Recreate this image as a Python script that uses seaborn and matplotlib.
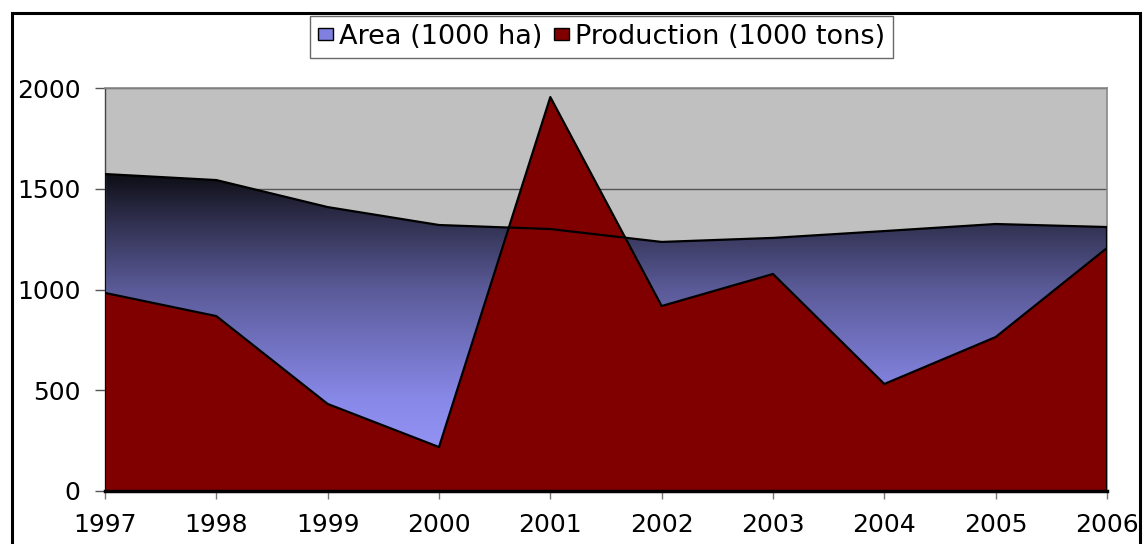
import numpy as np
import matplotlib
matplotlib.use("Agg")
import matplotlib.pyplot as plt
import seaborn as sns
import pandas as pd
from matplotlib.colors import LinearSegmentedColormap
from matplotlib.patches import Rectangle, Patch

years = [1997, 1998, 1999, 2000, 2001, 2002, 2003, 2004, 2005, 2006]
area = [1573, 1543, 1409, 1320, 1300, 1236, 1256, 1290, 1325, 1310]
production = [983, 868, 432, 218, 1955, 918, 1077, 531, 764, 1206]
series_labels = ["Area (1000 ha)", "Production (1000 tons)"]
y_ticks = [0, 500, 1000, 1500, 2000]

df = pd.DataFrame({"year": years, "area": area, "production": production})

sns.set_theme(style="white")
plt.rcParams["font.family"] = ["DejaVu Sans"]
plt.rcParams["text.color"] = "black"
plt.rcParams["xtick.color"] = "black"
plt.rcParams["ytick.color"] = "black"

fig = plt.figure(figsize=(11.43, 5.44), dpi=100)
ax = fig.add_axes([105 / 1143, 1 - 491 / 544, (1107 - 105) / 1143, (491 - 88) / 544])
ax.set_facecolor("#c0c0c0")

# outer border
fig.patches.append(Rectangle((12 / 1143, -0.05), (1140 - 12) / 1143, 1 - 13 / 544 + 0.05,
                             transform=fig.transFigure, fill=False, edgecolor="black",
                             linewidth=2.2, zorder=0))

# gridlines
for t in y_ticks[1:]:
    ax.axhline(t, color="#555555", linewidth=1.0, zorder=1)

# gradient fill for area
cmap = LinearSegmentedColormap.from_list(
    "areagrad",
    [(0.0, "#9c9cff"), (0.29, "#8888e8"), (0.64, "#5a5a98"), (0.88, "#2a2a45"), (1.0, "#0e0e16")])
amax = max(area)
grad = np.linspace(0, 1, 256).reshape(-1, 1)
im = ax.imshow(grad, cmap=cmap, aspect="auto", origin="lower",
               extent=[years[0], years[-1], 0, amax], zorder=2)
poly = ax.fill_between(df["year"], 0, df["area"], facecolor="none", edgecolor="none", zorder=2)
clip_path = poly.get_paths()[0]
im.set_clip_path(clip_path, transform=ax.transData)

# production fill
ax.fill_between(df["year"], 0, df["production"], facecolor="#800000", edgecolor="none", zorder=3)

# outlines
sns.lineplot(data=df, x="year", y="area", color="black", linewidth=1.6, ax=ax, zorder=4)
sns.lineplot(data=df, x="year", y="production", color="black", linewidth=1.6, ax=ax, zorder=5)
ax.plot([years[0], years[0]], [0, area[0]], color="black", linewidth=1.2, zorder=4)
ax.plot([years[-1], years[-1]], [0, area[-1]], color="black", linewidth=1.6, zorder=5)

ax.set_xlim(years[0], years[-1])
ax.set_ylim(0, 2000)
ax.set_xticks(years)
ax.set_yticks(y_ticks)
ax.set_xticklabels([str(y) for y in years])
ax.set_xlabel("")
ax.set_ylabel("")

for s in ["top", "right"]:
    ax.spines[s].set_color("#888888")
    ax.spines[s].set_linewidth(1.2)
ax.spines["left"].set_color("#444444")
ax.spines["left"].set_linewidth(1.0)
ax.spines["bottom"].set_color("black")
ax.spines["bottom"].set_linewidth(2.5)
ax.spines["bottom"].set_zorder(6)

ax.tick_params(axis="y", direction="out", length=7.5, width=1, color="#555555",
               labelsize=18, pad=10, left=True, labelcolor="black")
ax.tick_params(axis="x", direction="out", length=6, width=1, color="#777777",
               labelsize=18, pad=9.5, bottom=True, labelcolor="black")

handles = [Patch(facecolor="#8080e0", edgecolor="black", linewidth=1.0),
           Patch(facecolor="#800000", edgecolor="black", linewidth=1.0)]
fig.legend(handles, series_labels, loc="center", bbox_to_anchor=(601.5 / 1143, 1 - 37 / 544),
           ncol=2, frameon=True, fancybox=False, edgecolor="#444444", fontsize=19.5,
           handlelength=0.55, handleheight=0.32, handletextpad=0.22, columnspacing=0.45,
           borderpad=0.28, borderaxespad=0, labelcolor="black")

fig.savefig("out.png", dpi=100)
